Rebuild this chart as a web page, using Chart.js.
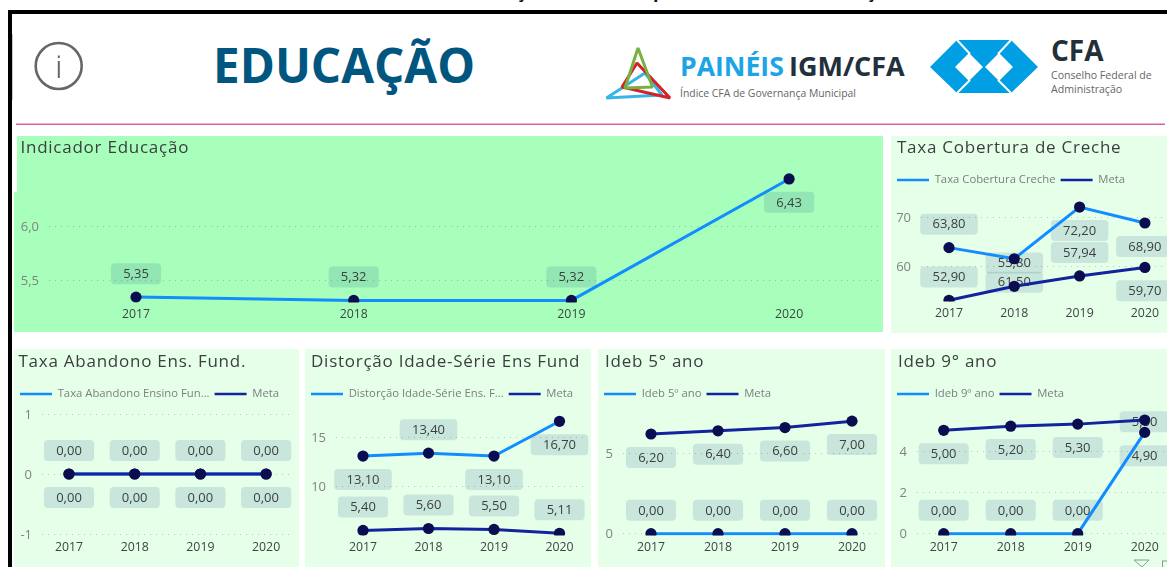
<!DOCTYPE html>
<html lang="pt">
<head>
<meta charset="utf-8">
<title>Educação</title>
<script src="https://cdn.jsdelivr.net/npm/chart.js@4"></script>
<style>
html,body{margin:0;padding:0;background:#fff;width:1167px;height:567px;overflow:hidden;font-family:"Open Sans",sans-serif}
.abs{position:absolute}
.panel{position:absolute;overflow:hidden}
.panel canvas{position:absolute;left:0;top:0}
#stage{position:absolute;left:0;top:0;width:1167px;height:567px;overflow:hidden}
</style>
</head>
<body>
<div id="stage">
<div class="abs" style="left:8px;top:10px;width:1159px;height:4px;background:#000"></div>
<div class="abs" style="left:8px;top:10px;width:3.5px;height:557px;background:#000"></div>
<div class="abs" style="left:11.5px;top:34px;width:1.5px;height:66px;background:#c9c9cf"></div>
<div class="abs" style="left:516px;top:-21px;font:bold 18px 'Open Sans';color:#111">ç</div>
<div class="abs" style="left:653px;top:-21px;font:bold 18px 'Open Sans';color:#111">p</div>
<div class="abs" style="left:866px;top:-21px;font:bold 18px 'Open Sans';color:#111">ç</div>
<div class="abs" style="left:882px;top:-21px;font:bold 18px 'Open Sans';color:#111">,</div>

<svg class="abs" style="left:0;top:0" width="1167" height="135" xmlns="http://www.w3.org/2000/svg">
  <circle cx="58.7" cy="66" r="23" fill="none" stroke="#666" stroke-width="2.6"/>
  <rect x="57.8" y="61" width="2" height="17" fill="#666"/>
  <rect x="57.8" y="55.5" width="2" height="2.5" fill="#666"/>
  <text x="213" y="83" font-family="Open Sans" font-weight="700" font-size="47.6" fill="#00567F">EDUCAÇÃO</text>

  <g fill="none" stroke-width="3" stroke-linejoin="bevel">
    <polygon points="606.5,98 645,73 662,95" stroke="#35B6E6"/>
    <polygon points="637,63 670,98 622,87" stroke="#D2232A"/>
    <polygon points="638,48 625,88 652.5,87" stroke="#78B13F"/>
  </g>
  <text x="680" y="76" font-family="Open Sans" font-weight="700" font-size="26.6" fill="#1CA5E6">PAINÉIS</text>
  <text x="789" y="76" font-family="Open Sans" font-weight="700" font-size="27" fill="#22303C">IGM/CFA</text>
  <text x="680" y="97" font-family="Open Sans" font-size="10.4" fill="#666">Índice CFA de Governança Municipal</text>

  <polygon points="930,67 957,40 1011,40 1038,67 1011,93 957,93" fill="#009FE3"/>
  <polygon points="955,67 969,53 983,67 969,81" fill="#fff"/>
  <polygon points="985,67 999,53 1013,67 999,81" fill="#fff"/>
  <g stroke="#fff" stroke-width="2">
    <line x1="957" y1="40" x2="970" y2="54"/><line x1="957" y1="93" x2="970" y2="80"/>
    <line x1="1011" y1="40" x2="998" y2="54"/><line x1="1011" y1="93" x2="998" y2="80"/>
  </g>
  <text x="1051" y="61" font-family="Open Sans" font-weight="700" font-size="28" fill="#22303C">CFA</text>
  <text x="1051" y="79" font-family="Open Sans" font-size="10.6" fill="#666">Conselho Federal de</text>
  <text x="1051" y="93" font-family="Open Sans" font-size="10.6" fill="#666">Administração</text>
  <rect x="16" y="123.5" width="1149" height="1.5" fill="#D263A8"/>
</svg>

<div class="panel" id="p0" style="left:14px;top:136px;width:869px;height:196px;background:#A8FFBB"><canvas id="c0"></canvas></div>
<div class="abs" style="left:14px;top:136px;width:3px;height:56px;background:#fff"></div>
<div class="panel" id="p1" style="left:891px;top:136px;width:276px;height:197px;background:#E6FFE9"><canvas id="c1"></canvas></div>
<div class="panel" id="p2" style="left:14px;top:349px;width:285px;height:218px;background:#E6FFE9"><canvas id="c2"></canvas></div>
<div class="panel" id="p3" style="left:305px;top:349px;width:286px;height:218px;background:#E6FFE9"><canvas id="c3"></canvas></div>
<div class="panel" id="p4" style="left:598px;top:349px;width:287px;height:218px;background:#E6FFE9"><canvas id="c4"></canvas></div>
<div class="panel" id="p5" style="left:891px;top:349px;width:276px;height:218px;background:#E6FFE9"><canvas id="c5"></canvas></div>

<svg class="abs" style="left:1130px;top:555px" width="37" height="12" xmlns="http://www.w3.org/2000/svg">
  <polygon points="4,5 19,5 12,12" fill="none" stroke="#8a9a94" stroke-width="1"/>
  <rect x="32.5" y="6" width="8" height="8" fill="none" stroke="#8a9a94" stroke-width="1"/>
</svg>
</div>

<script>
// ---------- data ----------
const years = [2017, 2018, 2019, 2020];

const indicadorValues = [5.35, 5.32, 5.32, 6.43];
const indicadorTicks = [5.5, 6.0];

const crecheValues = [63.8, 61.5, 72.2, 68.9];
const crecheMeta = [52.9, 55.8, 57.94, 59.7];
const crecheTicks = [60, 70];

const abandonoValues = [0, 0, 0, 0];
const abandonoMeta = [0, 0, 0, 0];
const abandonoTicks = [-1, 0, 1];

const distorcaoValues = [13.1, 13.4, 13.1, 16.7];
const distorcaoMeta = [5.4, 5.6, 5.5, 5.11];
const distorcaoTicks = [10, 15];

const ideb5Values = [0, 0, 0, 0];
const ideb5Meta = [6.2, 6.4, 6.6, 7.0];
const ideb5Ticks = [0, 5];

const ideb9Values = [0, 0, 0, 4.9];
const ideb9Meta = [5.0, 5.2, 5.3, 5.5];
const ideb9Ticks = [0, 2, 4];

// ---------- label placement: -1 above the point, +1 below ----------
const sideIndicador = [-1, -1, -1, 1];
const sideCreche = [-1, 1, 1, 1];
const sideCrecheMeta = [-1, -1, -1, 1];
const sideAbandono = [1, 1, 1, 1];
const sideAbandonoMeta = [-1, -1, -1, -1];
const sideDistorcao = [1, -1, 1, 1];
const sideDistorcaoMeta = [-1, -1, -1, -1];
const sideIdeb5 = [-1, -1, -1, -1];
const sideIdeb5Meta = [1, 1, 1, 1];
const sideIdeb9 = [-1, -1, -1, 1];
const sideIdeb9Meta = [1, 1, 1, 0.08];

// ---------- styles ----------
const BLUE = '#118DFF', NAVY = '#12239E', DOT = '#0A0D4F';
const PILL = 'rgba(0,60,130,0.13)';
const LABEL_GAP = 23.4;
const fmt = (v, d) => v.toFixed(d).replace('.', ',');

const labelPlugin = {
  id: 'pillLabels',
  beforeDatasetsDraw(chart) {
    const c = chart.ctx;
    c.save();
    c.font = '13px "Open Sans"';
    c.textAlign = 'center';
    c.textBaseline = 'middle';
    chart.data.datasets.forEach(ds => {
      const xs = chart.scales.x, ys = chart.scales.y;
      ds.data.forEach((p, k) => {
        const x = xs.getPixelForValue(p.x);
        const y = ys.getPixelForValue(p.y) + ds.labelSides[k] * LABEL_GAP;
        const t = fmt(p.y, 2);
        const w = c.measureText(t).width + 24.5, h = 21;
        c.fillStyle = PILL;
        c.beginPath();
        c.roundRect(x - w / 2, y - h / 2, w, h, 4);
        c.fill();
        c.fillStyle = '#3a3f3f';
        c.fillText(t, x, y + 0.5);
      });
    });
    c.restore();
  }
};

const titlePlugin = {
  id: 'titleLeft',
  afterLayout(chart) {
    const tb = chart.titleBlock;
    if (!tb) return;
    tb.left = chart.options.titleX;
    if (!tb._spaced) {
      tb._spaced = true;
      const draw = tb.draw;
      tb.draw = function () {
        chart.ctx.letterSpacing = '0.75px';
        draw.call(this);
        chart.ctx.letterSpacing = '0px';
      };
    }
  }
};

function series(values, label, color, sides, order) {
  return {
    label,
    data: values.map((y, i) => ({ x: years[i], y })),
    borderColor: color,
    backgroundColor: color,
    borderWidth: 3,
    tension: 0,
    pointRadius: 5.6,
    pointHoverRadius: 5.6,
    pointBackgroundColor: DOT,
    pointBorderColor: DOT,
    pointBorderWidth: 0,
    clip: { left: 30, right: 30, top: 30, bottom: 1 },
    labelSides: sides,
    order
  };
}

function build(o) {
  const el = document.getElementById(o.id);
  const panel = el.parentElement.getBoundingClientRect();
  const W = Math.max(panel.width, o.R - panel.left);
  const H = panel.height;
  el.width = W; el.height = H;
  el.style.width = W + 'px'; el.style.height = H + 'px';
  const bottomPx = o.B - panel.top;
  const yOf = o.y;                    // two tick anchors: [v1,px1,v2,px2]
  const perPx = (yOf[2] - yOf[0]) / (yOf[1] - yOf[3]);
  const valAt = px => yOf[0] + (yOf[1] - px) * perPx;
  const chart = new Chart(el, {
    type: 'line',
    data: { datasets: o.datasets },
    plugins: [labelPlugin, titlePlugin],
    options: {
      responsive: false, animation: false, devicePixelRatio: 1,
      parsing: { xAxisKey: 'x', yAxisKey: 'y' },
      titleX: o.titleX,
      layout: { autoPadding: false, padding: { left: 1, right: W - (o.R - panel.left), top: 0, bottom: 0 } },
      plugins: {
        tooltip: { enabled: false },
        title: {
          display: true, text: o.title, align: 'start', color: '#3b3f3f',
          font: { family: 'Open Sans', size: 17, weight: '400' },
          padding: { top: o.titleTop, bottom: 11 }
        },
        legend: {
          display: o.datasets.length > 1, position: 'top', align: 'start',
          labels: {
            usePointStyle: true, pointStyle: 'line', pointStyleWidth: 32,
            color: '#7b7f7f', padding: 5,
            font: { family: 'Open Sans', size: 11.3 },
            sort: (a, b) => a.datasetIndex - b.datasetIndex,
            generateLabels(ch) {
              return Chart.defaults.plugins.legend.labels.generateLabels(ch).map(l => ({
                ...l, lineWidth: 2.4, strokeStyle: ch.data.datasets[l.datasetIndex].borderColor
              }));
            }
          }
        }
      },
      scales: {
        x: {
          type: 'linear',
          min: years[0] - (o.p0 - o.L) / o.s,
          max: years[0] + (o.R - o.p0) / o.s,
          grid: { display: false, drawTicks: false },
          border: { display: false },
          afterBuildTicks: s => { s.ticks = years.map(value => ({ value })); },
          afterFit: s => { s.height = H - bottomPx; },
          ticks: {
            color: '#3e4444', padding: 5.5, autoSkip: false, maxRotation: 0,
            font: { family: 'Open Sans', size: 12.3 },
            callback: v => String(v)
          }
        },
        y: {
          type: 'linear',
          min: valAt(bottomPx + panel.top),
          max: valAt(panel.top + 55),
          grid: { color: 'rgba(60,60,60,0.28)', lineWidth: 1, drawTicks: false },
          border: { display: false, dash: [1, 5] },
          afterBuildTicks: s => { s.ticks = o.ticks.map(value => ({ value })); },
          afterFit: s => { s.width = o.L - panel.left - 1; },
          ticks: {
            color: '#7f8481', padding: 10, autoSkip: false, labelOffset: 1,
            font: { family: 'Open Sans', size: 13 },
            callback: v => fmt(v, o.tickDec)
          }
        }
      }
    }
  });
  const a = chart.chartArea;
  chart.options.scales.y.min = valAt(panel.top + a.bottom);
  chart.options.scales.y.max = valAt(panel.top + a.top);
  chart.update('none');
  return chart;
}

function start() {
  build({
    id: 'c0', title: 'Indicador Educação', titleX: 6.5, titleTop: 2,
    L: 49, R: 883, B: 301.5, p0: 136, s: 217.7,
    y: [5.5, 280.7, 6.0, 226], ticks: indicadorTicks, tickDec: 1,
    datasets: [series(indicadorValues, 'Indicador Educação', BLUE, sideIndicador, 1)]
  });
  build({
    id: 'c1', title: 'Taxa Cobertura de Creche', titleX: 6, titleTop: 2,
    L: 921, R: 1182, B: 300.5, p0: 949, s: 65.3,
    y: [60, 266, 70, 217.7], ticks: crecheTicks, tickDec: 0,
    datasets: [
      series(crecheValues, 'Taxa Cobertura Creche', BLUE, sideCreche, 1),
      series(crecheMeta, 'Meta', NAVY, sideCrecheMeta, 0)
    ]
  });
  build({
    id: 'c2', title: 'Taxa Abandono Ens. Fund.', titleX: 4.5, titleTop: 3,
    L: 42, R: 292, B: 535, p0: 69, s: 65.7,
    y: [-1, 534, 1, 414], ticks: abandonoTicks, tickDec: 0,
    datasets: [
      series(abandonoValues, 'Taxa Abandono Ensino Fun...', BLUE, sideAbandono, 1),
      series(abandonoMeta, 'Meta', NAVY, sideAbandonoMeta, 0)
    ]
  });
  build({
    id: 'c3', title: 'Distorção Idade-Série Ens Fund', titleX: 6, titleTop: 3,
    L: 336, R: 587, B: 534.5, p0: 363, s: 65.5,
    y: [10, 486, 15, 437.7], ticks: distorcaoTicks, tickDec: 0,
    datasets: [
      series(distorcaoValues, 'Distorção Idade-Série Ens. F...', BLUE, sideDistorcao, 1),
      series(distorcaoMeta, 'Meta', NAVY, sideDistorcaoMeta, 0)
    ]
  });
  build({
    id: 'c4', title: 'Ideb 5° ano', titleX: 7, titleTop: 3,
    L: 623, R: 880, B: 534.5, p0: 651, s: 67,
    y: [0, 533.7, 5, 453.3], ticks: ideb5Ticks, tickDec: 0,
    datasets: [
      series(ideb5Values, 'Ideb 5º ano', BLUE, sideIdeb5, 1),
      series(ideb5Meta, 'Meta', NAVY, sideIdeb5Meta, 0)
    ]
  });
  build({
    id: 'c5', title: 'Ideb 9° ano', titleX: 7, titleTop: 3,
    L: 917, R: 1182, B: 534.5, p0: 943.7, s: 67,
    y: [0, 533.7, 4, 451], ticks: ideb9Ticks, tickDec: 0,
    datasets: [
      series(ideb9Values, 'Ideb 9º ano', BLUE, sideIdeb9, 0),
      series(ideb9Meta, 'Meta', NAVY, sideIdeb9Meta, 1)
    ]
  });
}
start();
</script>
</body>
</html>
